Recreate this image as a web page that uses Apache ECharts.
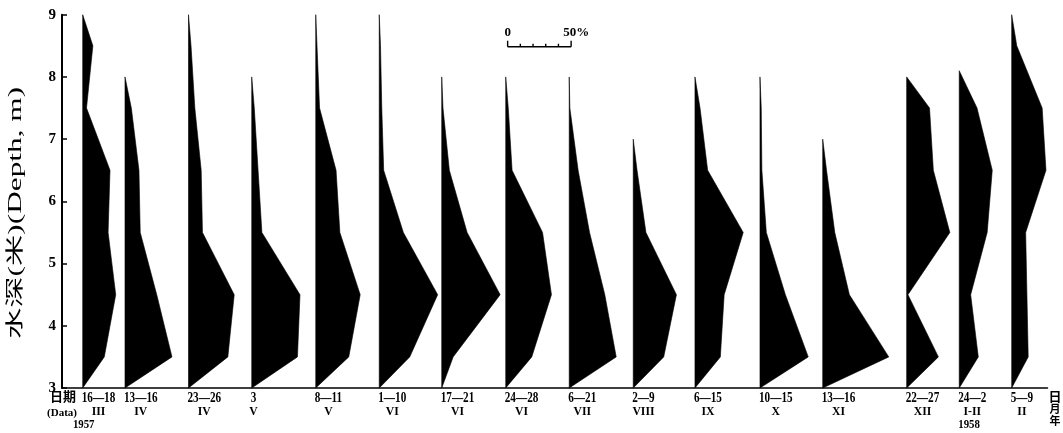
<!DOCTYPE html>
<html><head><meta charset="utf-8">
<script src="https://cdn.jsdelivr.net/npm/echarts@6/dist/echarts.min.js"></script>
<style>html,body{margin:0;padding:0;background:#fff}#c{width:1063px;height:433px}</style>
</head><body><div id="c"></div>
<script>
// ---------------- data ----------------
// depths (m) at which percentages were read
const midDepths = [3.5, 4.5, 5.5, 6.5, 7.5, 8.5];
const bottomDepth = 3;
// water depth (top of each profile)
const topDepths = [9, 8, 9, 8, 9, 9, 8, 8, 8, 7, 8, 8, 7, 8, 8.1, 9];
// tick labels of the depth axis
const depthTicks = [3, 4, 5, 6, 7, 8, 9];
// date labels
const dateLabels = ['16—18', '13—16', '23—26', '3', '8—11', '1—10', '17—21', '24—28', '6—21', '2—9', '6—15', '10—15', '13—16', '22—27', '24—2', '5—9'];
const monthLabels = ['III', 'IV', 'IV', 'V', 'V', 'VI', 'VI', 'VI', 'VII', 'VIII', 'IX', 'X', 'XI', 'XII', 'I-II', 'II'];
const yearLabels = ['1957', '', '', '', '', '', '', '', '', '', '', '', '', '', '1958', ''];
// percentage at 3.5, 4.5, 5.5, 6.5, 7.5, 8.5 m
const pMar16 = [17, 26, 20, 21.5, 3, 8];
const pApr13 = [37, 25, 12, 11, 5];
const pApr23 = [31, 36, 11, 10, 5, 2];
const pMay3  = [36, 38, 8, 5, 2];
const pMay8  = [26, 35, 19, 16, 3, 1];
const pJun1  = [24, 46, 19, 3.5, 2, 1];
const pJun17 = [9, 46, 20, 6, 1];
const pJun24 = [20.5, 36, 29, 5, 2];
const pJul6  = [37, 28, 16, 7, 0.5];
const pAug2  = [24, 34, 10, 3];
const pSep6  = [20, 23, 38, 10, 4];
const pOct10 = [38, 20, 5, 1.5, 1];
const pNov13 = [52, 21, 9.5, 3];
const pDec22 = [25, 1, 34, 21, 18];
const pJan24 = [15, 9, 22, 26, 14];
const pFeb5  = [13, 12, 11, 27, 24, 4];
const profiles = [pMar16, pApr13, pApr23, pMay3, pMay8, pJun1, pJun17, pJun24, pJul6, pAug2, pSep6, pOct10, pNov13, pDec22, pJan24, pFeb5];
const scaleBarTicks = [0, 10, 20, 30, 40, 50];

// ---------------- layout ----------------
const layout = {
  baseOffset: [16.3, 49.6, 99.6, 149.4, 199.8, 249.8, 299.0, 349.4, 399.4, 449.8, 498.4, 549.6, 599.0, 665.1, 706.5, 747.8],
  scaleBarAt: [350.9, 8.485]
};
const FONT_FAM = '"Liberation Serif","Noto Sans CJK SC",serif';
const fontDate = 'bold 14px ' + FONT_FAM;
const fontMonth = 'bold 13px ' + FONT_FAM;
const dateScale = 0.8;
const monthScale = 0.9;

const mctx = document.createElement('canvas').getContext('2d');
function measure(t, f) { mctx.font = f; return mctx.measureText(t).width; }

function renderProfile(params, api) {
  const i = params.dataIndex;
  const off = layout.baseOffset[i];
  const vals = profiles[i];
  const pts = [api.coord([off, bottomDepth])];
  vals.forEach((v, k) => pts.push(api.coord([off + v, midDepths[k]])));
  pts.push(api.coord([off, topDepths[i]]));
  const base = api.coord([off, bottomDepth]);
  const x0 = base[0] - 1;
  const w1 = measure(dateLabels[i], fontDate) * dateScale;
  const children = [
    { type: 'polygon', shape: { points: pts }, style: { fill: '#000', stroke: '#000', lineWidth: 0.6 } },
    { type: 'text', x: x0, y: base[1] + 10, scaleX: dateScale,
      style: { text: dateLabels[i], font: fontDate, fill: '#000', align: 'left', verticalAlign: 'middle' } },
    { type: 'text', x: x0 + w1 / 2, y: base[1] + 24, scaleX: monthScale,
      style: { text: monthLabels[i], font: fontMonth, fill: '#000', align: 'center', verticalAlign: 'middle' } }
  ];
  if (yearLabels[i]) {
    children.push({ type: 'text', x: i === 0 ? base[0] + 1 : x0, y: base[1] + 37, scaleX: 0.9,
      style: { text: yearLabels[i], font: 'bold 12px ' + FONT_FAM, fill: '#000', align: i === 0 ? 'center' : 'left', verticalAlign: 'middle' } });
  }
  return { type: 'group', children };
}

function renderScaleBar(params, api) {
  const [bx, by] = layout.scaleBarAt;
  const p0 = api.coord([bx, by]);
  const p1 = api.coord([bx + scaleBarTicks[scaleBarTicks.length - 1], by]);
  const children = [
    { type: 'line', shape: { x1: p0[0], y1: p0[1], x2: p1[0], y2: p1[1] }, style: { stroke: '#000', lineWidth: 1.6 } }
  ];
  scaleBarTicks.forEach((t, k) => {
    const p = api.coord([bx + t, by]);
    const big = (k === 0 || k === scaleBarTicks.length - 1);
    children.push({ type: 'line', shape: { x1: p[0], y1: p[1], x2: p[0], y2: p[1] - (big ? 6 : 3) }, style: { stroke: '#000', lineWidth: 1.4 } });
  });
  children.push({ type: 'text', x: p0[0], y: p0[1] - 14, style: { text: '0', font: 'bold 13px ' + FONT_FAM, fill: '#000', align: 'center', verticalAlign: 'middle' } });
  children.push({ type: 'text', x: p1[0] - 8, y: p1[1] - 14, style: { text: '50%', font: 'bold 13px ' + FONT_FAM, fill: '#000', align: 'left', verticalAlign: 'middle' } });
  return { type: 'group', children };
}

const axisName = '水深(米)(Depth, m)';
const axisNameFont = '18px ' + FONT_FAM;
const axisNameScale = 1.74;

const chart = echarts.init(document.getElementById('c'), null, { renderer: 'canvas' });
chart.setOption({
  backgroundColor: '#fff',
  animation: false,
  grid: { left: 62, right: 15.5, top: 14.7, bottom: 45, containLabel: false },
  xAxis: {
    type: 'value', min: 0, max: 776,
    axisLine: { show: true, lineStyle: { color: '#000', width: 1.5 } },
    axisTick: { show: false }, axisLabel: { show: false }, splitLine: { show: false }
  },
  yAxis: {
    type: 'value', min: 3, max: 9, interval: 1,
    axisLine: { show: true, lineStyle: { color: '#000', width: 2 } },
    axisTick: { show: true, inside: true, length: 5, lineStyle: { color: '#000', width: 1.5 } },
    axisLabel: { margin: 6, color: '#000', fontSize: 15, fontWeight: 'bold', fontFamily: FONT_FAM,
      formatter: v => depthTicks.includes(v) ? String(v) : '' },
    splitLine: { show: false }
  },
  graphic: [
    { type: 'text', x: 16.5, y: 213, rotation: Math.PI / 2, scaleX: axisNameScale, scaleY: 1,
      style: { text: axisName, font: axisNameFont, fill: '#000', align: 'center', verticalAlign: 'middle' } },
    { type: 'text', x: 76, y: 398, style: { text: '日期', font: 'bold 13px ' + FONT_FAM, fill: '#000', align: 'right', verticalAlign: 'middle' } },
    { type: 'text', x: 62, y: 413, style: { text: '(Data)', font: 'bold 11px ' + FONT_FAM, fill: '#000', align: 'center', verticalAlign: 'middle' } },
    { type: 'text', x: 1055, y: 398, style: { text: '日', font: 'bold 13px ' + FONT_FAM, fill: '#000', align: 'center', verticalAlign: 'middle' } },
    { type: 'text', x: 1055, y: 410, style: { text: '月', font: 'bold 11px ' + FONT_FAM, fill: '#000', align: 'center', verticalAlign: 'middle' } },
    { type: 'text', x: 1055, y: 422, style: { text: '年', font: 'bold 11px ' + FONT_FAM, fill: '#000', align: 'center', verticalAlign: 'middle' } }
  ],
  series: [
    { type: 'custom', renderItem: renderProfile, data: profiles.map((p, i) => [i]), clip: false, silent: true },
    { type: 'custom', renderItem: renderScaleBar, data: [[0]], clip: false, silent: true }
  ]
});
</script>
</body></html>
